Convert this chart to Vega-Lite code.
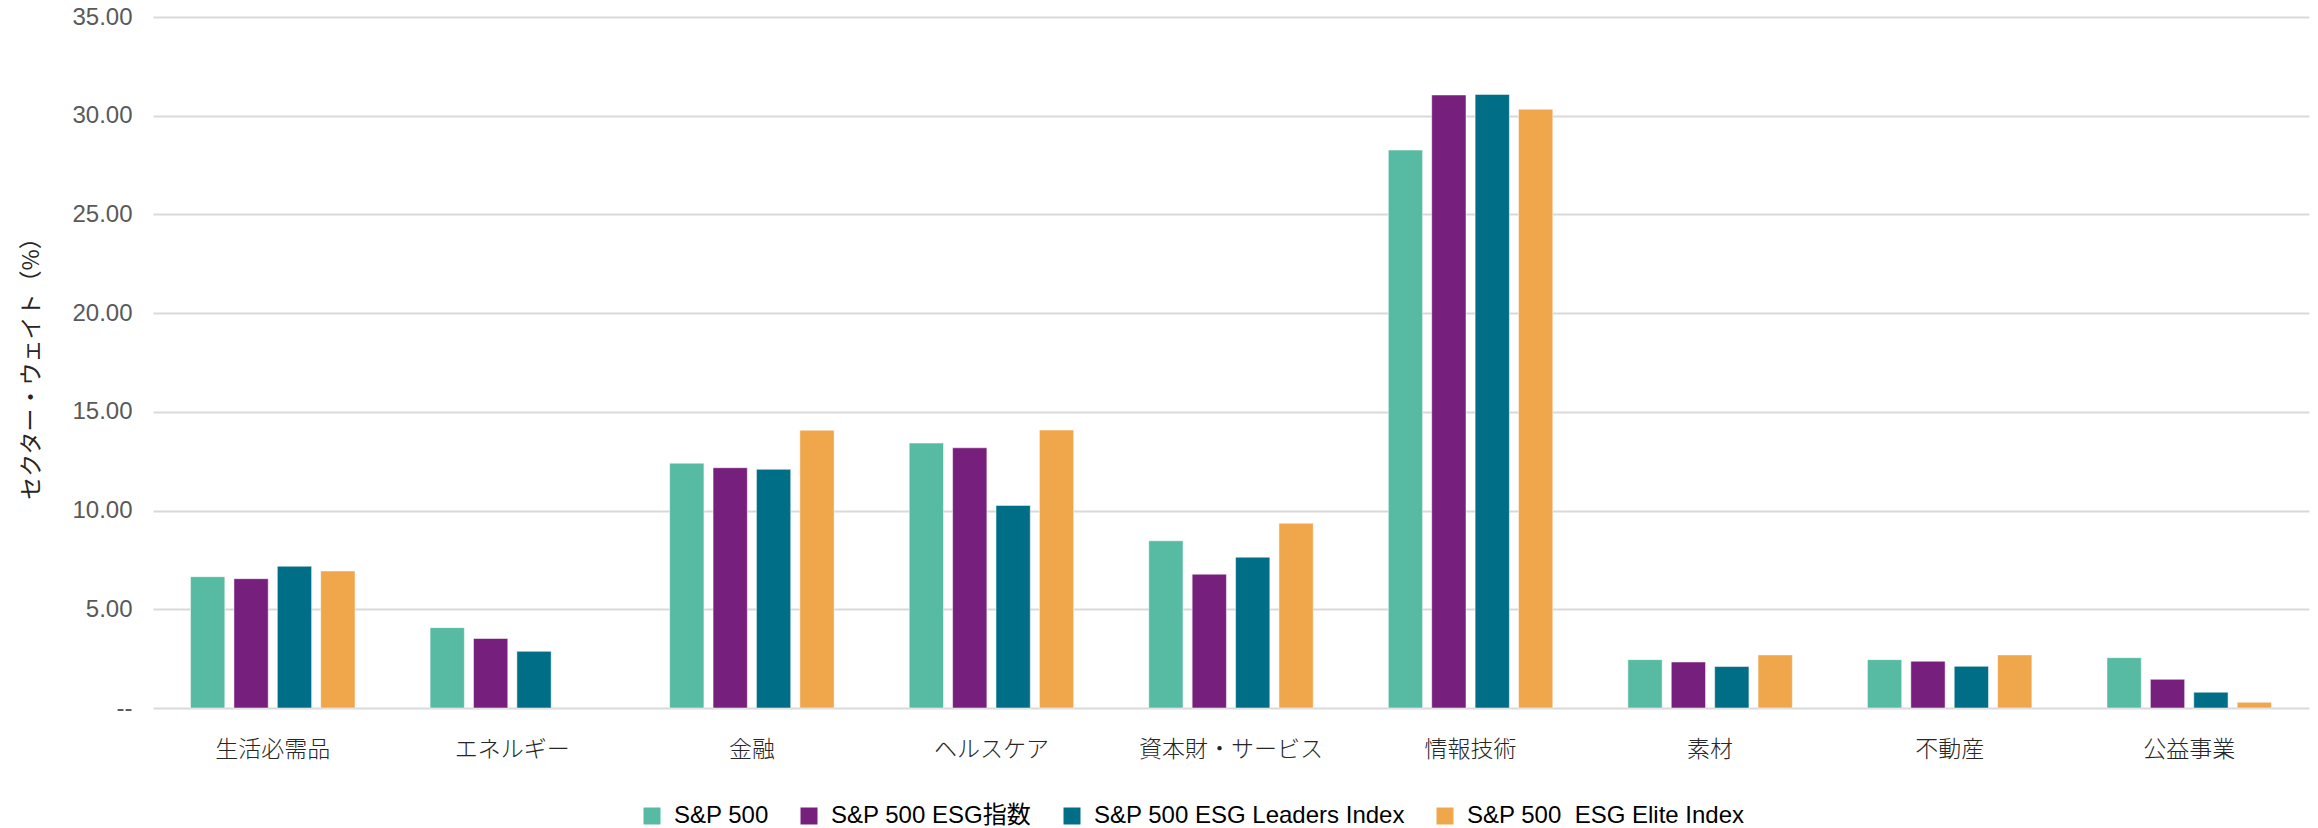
{
  "$schema": "https://vega.github.io/schema/vega-lite/v6.json",
  "width": 2156,
  "height": 691,
  "autosize": {"type": "none"},
  "padding": {"left": 153, "top": 17, "right": 9, "bottom": 120},
  "background": "#ffffff",
  "config": {
    "view": {"stroke": null},
    "font": "Liberation Sans"
  },
  "data": {
    "values": [
      {"sector": "生活必需品", "index": "S&P 500", "value": 6.65},
      {"sector": "生活必需品", "index": "S&P 500 ESG指数", "value": 6.55},
      {"sector": "生活必需品", "index": "S&P 500 ESG Leaders Index", "value": 7.18},
      {"sector": "生活必需品", "index": "S&P 500\u00a0 ESG Elite Index", "value": 6.94},
      {"sector": "エネルギー", "index": "S&P 500", "value": 4.07},
      {"sector": "エネルギー", "index": "S&P 500 ESG指数", "value": 3.52},
      {"sector": "エネルギー", "index": "S&P 500 ESG Leaders Index", "value": 2.87},
      {"sector": "金融", "index": "S&P 500", "value": 12.40},
      {"sector": "金融", "index": "S&P 500 ESG指数", "value": 12.17},
      {"sector": "金融", "index": "S&P 500 ESG Leaders Index", "value": 12.09},
      {"sector": "金融", "index": "S&P 500\u00a0 ESG Elite Index", "value": 14.07},
      {"sector": "ヘルスケア", "index": "S&P 500", "value": 13.42},
      {"sector": "ヘルスケア", "index": "S&P 500 ESG指数", "value": 13.18},
      {"sector": "ヘルスケア", "index": "S&P 500 ESG Leaders Index", "value": 10.26},
      {"sector": "ヘルスケア", "index": "S&P 500\u00a0 ESG Elite Index", "value": 14.08},
      {"sector": "資本財・サービス", "index": "S&P 500", "value": 8.47},
      {"sector": "資本財・サービス", "index": "S&P 500 ESG指数", "value": 6.78},
      {"sector": "資本財・サービス", "index": "S&P 500 ESG Leaders Index", "value": 7.64},
      {"sector": "資本財・サービス", "index": "S&P 500\u00a0 ESG Elite Index", "value": 9.36},
      {"sector": "情報技術", "index": "S&P 500", "value": 28.26},
      {"sector": "情報技術", "index": "S&P 500 ESG指数", "value": 31.05},
      {"sector": "情報技術", "index": "S&P 500 ESG Leaders Index", "value": 31.08},
      {"sector": "情報技術", "index": "S&P 500\u00a0 ESG Elite Index", "value": 30.33},
      {"sector": "素材", "index": "S&P 500", "value": 2.45},
      {"sector": "素材", "index": "S&P 500 ESG指数", "value": 2.33},
      {"sector": "素材", "index": "S&P 500 ESG Leaders Index", "value": 2.10},
      {"sector": "素材", "index": "S&P 500\u00a0 ESG Elite Index", "value": 2.69},
      {"sector": "不動産", "index": "S&P 500", "value": 2.45},
      {"sector": "不動産", "index": "S&P 500 ESG指数", "value": 2.37},
      {"sector": "不動産", "index": "S&P 500 ESG Leaders Index", "value": 2.11},
      {"sector": "不動産", "index": "S&P 500\u00a0 ESG Elite Index", "value": 2.69},
      {"sector": "公益事業", "index": "S&P 500", "value": 2.55},
      {"sector": "公益事業", "index": "S&P 500 ESG指数", "value": 1.45},
      {"sector": "公益事業", "index": "S&P 500 ESG Leaders Index", "value": 0.80},
      {"sector": "公益事業", "index": "S&P 500\u00a0 ESG Elite Index", "value": 0.29}
    ]
  },
  "mark": {"type": "bar", "stroke": "#ffffff", "strokeWidth": 1, "strokeOpacity": 0.5},
  "encoding": {
    "x": {
      "field": "sector",
      "type": "nominal",
      "sort": ["生活必需品", "エネルギー", "金融", "ヘルスケア", "資本財・サービス", "情報技術", "素材", "不動産", "公益事業"],
      "scale": {"paddingInner": 0, "paddingOuter": 0},
      "axis": {
        "title": null,
        "labelAngle": 0,
        "domain": false,
        "ticks": false,
        "labelPadding": 30,
        "labelFont": "Noto Sans CJK JP",
        "labelFontWeight": 300,
        "labelFontSize": 23,
        "labelColor": "#262626",
        "labelLimit": 0
      }
    },
    "xOffset": {
      "field": "index",
      "type": "nominal",
      "sort": ["S&P 500", "S&P 500 ESG指数", "S&P 500 ESG Leaders Index", "S&P 500\u00a0 ESG Elite Index"],
      "scale": {"paddingInner": 0.21, "paddingOuter": 0.865}
    },
    "y": {
      "field": "value",
      "type": "quantitative",
      "scale": {"domain": [0, 35], "nice": false},
      "axis": {
        "title": "セクター・ウェイト（%）",
        "titleFont": "Noto Sans CJK JP",
        "titleFontWeight": "normal",
        "titleFontSize": 23,
        "titleColor": "#262626",
        "titlePadding": 28,
        "values": [0, 5, 10, 15, 20, 25, 30, 35],
        "labelExpr": "datum.value == 0 ? '--' : format(datum.value, '.2f')",
        "labelFont": "Liberation Sans",
        "labelFontSize": 24,
        "labelColor": "#595959",
        "labelPadding": 21,
        "domain": false,
        "ticks": false,
        "grid": true,
        "gridColor": "#d9d9d9",
        "gridWidth": 2
      }
    },
    "color": {
      "field": "index",
      "type": "nominal",
      "sort": ["S&P 500", "S&P 500 ESG指数", "S&P 500 ESG Leaders Index", "S&P 500\u00a0 ESG Elite Index"],
      "scale": {
        "domain": ["S&P 500", "S&P 500 ESG指数", "S&P 500 ESG Leaders Index", "S&P 500\u00a0 ESG Elite Index"],
        "range": ["#56BBA2", "#771F7C", "#006E87", "#F0A64B"]
      },
      "legend": {
        "title": null,
        "orient": "none",
        "direction": "horizontal",
        "columns": 4,
        "legendX": 487,
        "legendY": 787,
        "padding": 0,
        "columnPadding": 28,
        "symbolType": "square",
        "symbolSize": 289,
        "symbolStrokeWidth": 0,
        "symbolOpacity": 1,
        "labelFont": "Liberation Sans, Noto Sans CJK JP",
        "labelFontSize": 24,
        "labelFontWeight": "normal",
        "labelColor": "#000000",
        "labelOffset": 10,
        "labelLimit": 0
      }
    }
  }
}
